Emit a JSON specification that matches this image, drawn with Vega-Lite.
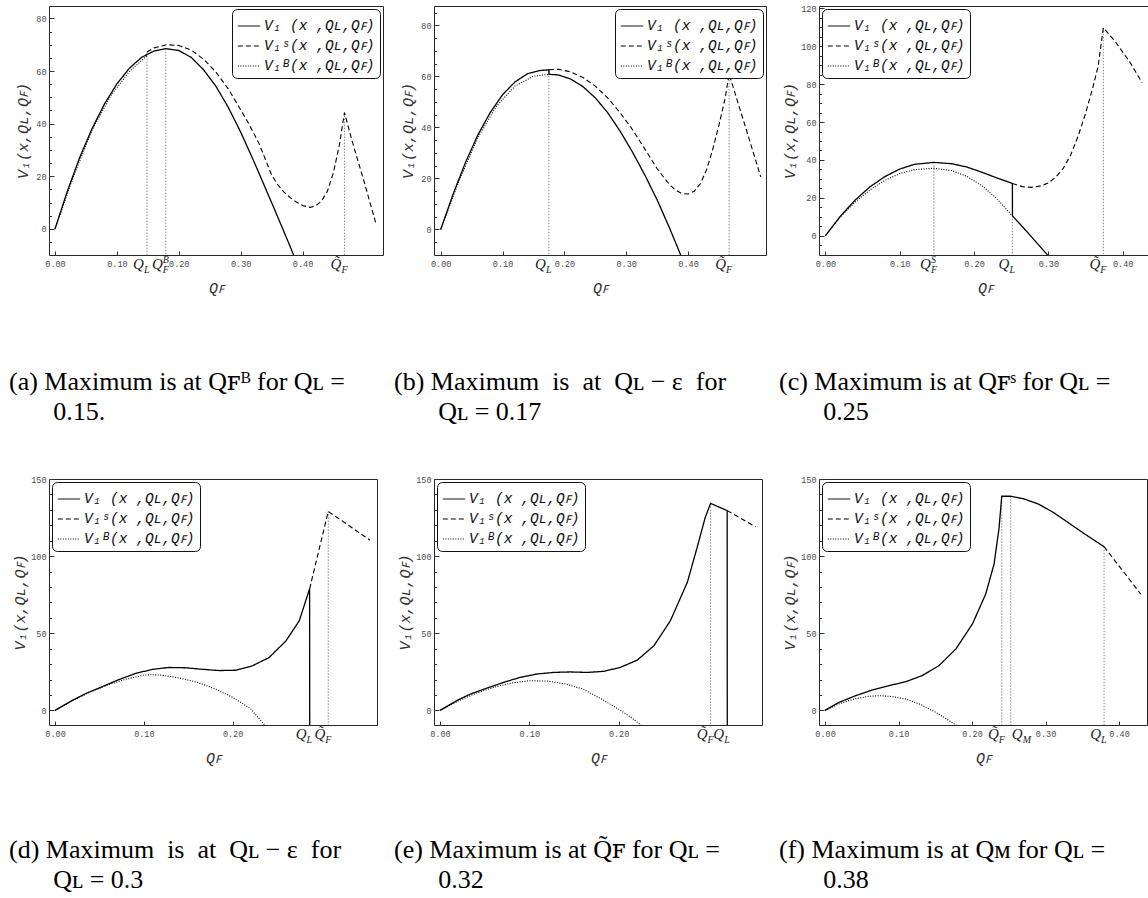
{
"$schema": "https://vega.github.io/schema/vega-lite/v6.json",
"background": "white",
"padding": {"left": 8, "top": 3, "right": 0, "bottom": 0},
"config": {
 "view": {"stroke": "#262626", "strokeWidth": 1},
 "axis": {"grid": false, "domain": false, "tickColor": "#333333", "tickWidth": 1, "labelFont": "Liberation Mono", "labelFontSize": 8.5, "labelColor": "#4d4d4d", "titleFont": "Liberation Mono", "titleFontStyle": "italic", "titleFontWeight": "normal", "titleFontSize": 15, "titleColor": "#333333", "labelOverlap": false, "labelFlush": false},
 "legend": {"fillColor": "white", "strokeColor": "#111111", "cornerRadius": 5, "padding": 5, "offset": 3, "symbolType": "stroke", "symbolStrokeColor": "black", "symbolStrokeWidth": 1, "symbolSize": 500, "labelFont": "Liberation Mono", "labelFontStyle": "italic", "labelFontSize": 14.5, "labelColor": "#111111", "rowPadding": 1, "labelOffset": 3, "labelLimit": 400},
 "title": {"font": "Liberation Serif, DejaVu Serif, serif", "fontSize": 26, "fontWeight": "normal", "color": "black", "orient": "bottom", "anchor": "start", "frame": "group", "dx": -40, "offset": 74, "lineHeight": 30}
},
"datasets": {
 "curves": [
  {"p":"a","s":"B","x":0,"y":0},{"p":"a","s":"B","x":0.03,"y":20.0},{"p":"a","s":"B","x":0.06,"y":37.6},{"p":"a","s":"B","x":0.09,"y":50.6},{"p":"a","s":"B","x":0.12,"y":59.8},{"p":"a","s":"B","x":0.1486,"y":65.8},
  {"p":"a","s":"S","x":0.1486,"y":67.2},{"p":"a","s":"S","x":0.16,"y":68.8},{"p":"a","s":"S","x":0.18,"y":70.0},{"p":"a","s":"S","x":0.2,"y":69.7},{"p":"a","s":"S","x":0.22,"y":68.0},{"p":"a","s":"S","x":0.24,"y":64.5},{"p":"a","s":"S","x":0.26,"y":59.6},{"p":"a","s":"S","x":0.28,"y":53.2},{"p":"a","s":"S","x":0.3,"y":45.3},{"p":"a","s":"S","x":0.313,"y":40.0},{"p":"a","s":"S","x":0.33,"y":32.3},{"p":"a","s":"S","x":0.35,"y":20.5},{"p":"a","s":"S","x":0.36,"y":16.8},{"p":"a","s":"S","x":0.37,"y":14.0},{"p":"a","s":"S","x":0.38,"y":11.9},{"p":"a","s":"S","x":0.39,"y":10.2},{"p":"a","s":"S","x":0.4,"y":8.9},{"p":"a","s":"S","x":0.412,"y":8.2},{"p":"a","s":"S","x":0.42,"y":8.6},{"p":"a","s":"S","x":0.43,"y":10.4},{"p":"a","s":"S","x":0.44,"y":14.2},{"p":"a","s":"S","x":0.45,"y":21.5},{"p":"a","s":"S","x":0.46,"y":32.5},{"p":"a","s":"S","x":0.4677,"y":44.2},{"p":"a","s":"S","x":0.48,"y":33.5},{"p":"a","s":"S","x":0.5,"y":17.5},{"p":"a","s":"S","x":0.518,"y":2.5},
  {"p":"a","s":"V1","x":0,"y":0},{"p":"a","s":"V1","x":0.02,"y":14.4},{"p":"a","s":"V1","x":0.04,"y":27.2},{"p":"a","s":"V1","x":0.06,"y":38.2},{"p":"a","s":"V1","x":0.08,"y":47.5},{"p":"a","s":"V1","x":0.1,"y":55.1},{"p":"a","s":"V1","x":0.12,"y":61.0},{"p":"a","s":"V1","x":0.14,"y":65.2},{"p":"a","s":"V1","x":0.16,"y":67.6},{"p":"a","s":"V1","x":0.179,"y":68.5},{"p":"a","s":"V1","x":0.2,"y":67.8},{"p":"a","s":"V1","x":0.22,"y":65.2},{"p":"a","s":"V1","x":0.24,"y":60.5},{"p":"a","s":"V1","x":0.26,"y":54.2},{"p":"a","s":"V1","x":0.28,"y":46.2},{"p":"a","s":"V1","x":0.3,"y":36.8},{"p":"a","s":"V1","x":0.32,"y":26.4},{"p":"a","s":"V1","x":0.34,"y":15.5},{"p":"a","s":"V1","x":0.36,"y":4.5},{"p":"a","s":"V1","x":0.38,"y":-6.7},{"p":"a","s":"V1","x":0.39,"y":-12.5},

  {"p":"b","s":"B","x":0,"y":0},{"p":"b","s":"B","x":0.03,"y":19.2},{"p":"b","s":"B","x":0.06,"y":36.0},{"p":"b","s":"B","x":0.09,"y":48.3},{"p":"b","s":"B","x":0.12,"y":56.2},{"p":"b","s":"B","x":0.15,"y":60.1},{"p":"b","s":"B","x":0.175,"y":60.8},
  {"p":"b","s":"S","x":0.175,"y":62.6},{"p":"b","s":"S","x":0.19,"y":62.8},{"p":"b","s":"S","x":0.21,"y":61.8},{"p":"b","s":"S","x":0.23,"y":59.6},{"p":"b","s":"S","x":0.25,"y":56.2},{"p":"b","s":"S","x":0.27,"y":51.6},{"p":"b","s":"S","x":0.29,"y":45.8},{"p":"b","s":"S","x":0.31,"y":39.2},{"p":"b","s":"S","x":0.33,"y":31.6},{"p":"b","s":"S","x":0.35,"y":23.8},{"p":"b","s":"S","x":0.37,"y":17.6},{"p":"b","s":"S","x":0.38,"y":15.4},{"p":"b","s":"S","x":0.39,"y":14.1},{"p":"b","s":"S","x":0.4,"y":13.9},{"p":"b","s":"S","x":0.41,"y":15.0},{"p":"b","s":"S","x":0.42,"y":18.0},{"p":"b","s":"S","x":0.43,"y":23.5},{"p":"b","s":"S","x":0.44,"y":31.5},{"p":"b","s":"S","x":0.45,"y":41.0},{"p":"b","s":"S","x":0.46,"y":51.5},{"p":"b","s":"S","x":0.4663,"y":61.0},{"p":"b","s":"S","x":0.48,"y":50.2},{"p":"b","s":"S","x":0.5,"y":34.5},{"p":"b","s":"S","x":0.5175,"y":20.6},
  {"p":"b","s":"V1","x":0,"y":0},{"p":"b","s":"V1","x":0.02,"y":13.8},{"p":"b","s":"V1","x":0.04,"y":26.2},{"p":"b","s":"V1","x":0.06,"y":37.0},{"p":"b","s":"V1","x":0.08,"y":45.8},{"p":"b","s":"V1","x":0.1,"y":52.8},{"p":"b","s":"V1","x":0.12,"y":57.8},{"p":"b","s":"V1","x":0.14,"y":61.0},{"p":"b","s":"V1","x":0.16,"y":62.3},{"p":"b","s":"V1","x":0.175,"y":62.6},{"p":"b","s":"V1","x":0.1751,"y":60.8},{"p":"b","s":"V1","x":0.19,"y":60.6},{"p":"b","s":"V1","x":0.21,"y":59.0},{"p":"b","s":"V1","x":0.23,"y":56.0},{"p":"b","s":"V1","x":0.25,"y":51.6},{"p":"b","s":"V1","x":0.27,"y":45.8},{"p":"b","s":"V1","x":0.29,"y":38.6},{"p":"b","s":"V1","x":0.31,"y":30.4},{"p":"b","s":"V1","x":0.33,"y":21.4},{"p":"b","s":"V1","x":0.35,"y":11.6},{"p":"b","s":"V1","x":0.37,"y":0.6},{"p":"b","s":"V1","x":0.385,"y":-8.2},{"p":"b","s":"V1","x":0.39,"y":-11.2},

  {"p":"c","s":"B","x":0,"y":0},{"p":"c","s":"B","x":0.02,"y":9.8},{"p":"c","s":"B","x":0.04,"y":17.8},{"p":"c","s":"B","x":0.06,"y":24.2},{"p":"c","s":"B","x":0.08,"y":29.2},{"p":"c","s":"B","x":0.1,"y":32.8},{"p":"c","s":"B","x":0.12,"y":34.9},{"p":"c","s":"B","x":0.146,"y":35.6},{"p":"c","s":"B","x":0.17,"y":34.4},{"p":"c","s":"B","x":0.19,"y":31.4},{"p":"c","s":"B","x":0.21,"y":26.6},{"p":"c","s":"B","x":0.23,"y":19.8},{"p":"c","s":"B","x":0.2516,"y":10.5},
  {"p":"c","s":"S","x":0.2516,"y":27.6},{"p":"c","s":"S","x":0.265,"y":25.9},{"p":"c","s":"S","x":0.277,"y":25.5},{"p":"c","s":"S","x":0.29,"y":26.3},{"p":"c","s":"S","x":0.3,"y":27.8},{"p":"c","s":"S","x":0.31,"y":31.0},{"p":"c","s":"S","x":0.32,"y":35.5},{"p":"c","s":"S","x":0.33,"y":42.6},{"p":"c","s":"S","x":0.34,"y":52.5},{"p":"c","s":"S","x":0.35,"y":64.5},{"p":"c","s":"S","x":0.36,"y":78.5},{"p":"c","s":"S","x":0.367,"y":89.5},{"p":"c","s":"S","x":0.374,"y":109.8},{"p":"c","s":"S","x":0.39,"y":102.5},{"p":"c","s":"S","x":0.41,"y":91.5},{"p":"c","s":"S","x":0.426,"y":80.8},
  {"p":"c","s":"V1","x":0,"y":0},{"p":"c","s":"V1","x":0.02,"y":10.2},{"p":"c","s":"V1","x":0.04,"y":18.8},{"p":"c","s":"V1","x":0.06,"y":25.8},{"p":"c","s":"V1","x":0.08,"y":31.2},{"p":"c","s":"V1","x":0.1,"y":35.2},{"p":"c","s":"V1","x":0.12,"y":37.7},{"p":"c","s":"V1","x":0.146,"y":38.7},{"p":"c","s":"V1","x":0.17,"y":38.0},{"p":"c","s":"V1","x":0.19,"y":36.3},{"p":"c","s":"V1","x":0.21,"y":33.6},{"p":"c","s":"V1","x":0.23,"y":30.6},{"p":"c","s":"V1","x":0.2516,"y":27.6},{"p":"c","s":"V1","x":0.2517,"y":10.5},{"p":"c","s":"V1","x":0.27,"y":2.6},{"p":"c","s":"V1","x":0.29,"y":-6.3},{"p":"c","s":"V1","x":0.3,"y":-10.7},

  {"p":"d","s":"B","x":0,"y":0},{"p":"d","s":"B","x":0.02,"y":6.4},{"p":"d","s":"B","x":0.04,"y":12.0},{"p":"d","s":"B","x":0.06,"y":16.6},{"p":"d","s":"B","x":0.08,"y":20.2},{"p":"d","s":"B","x":0.1,"y":22.9},{"p":"d","s":"B","x":0.11,"y":23.1},{"p":"d","s":"B","x":0.12,"y":22.8},{"p":"d","s":"B","x":0.14,"y":21.0},{"p":"d","s":"B","x":0.16,"y":18.2},{"p":"d","s":"B","x":0.18,"y":14.0},{"p":"d","s":"B","x":0.2,"y":8.4},{"p":"d","s":"B","x":0.22,"y":1.2},{"p":"d","s":"B","x":0.236,"y":-9.5},{"p":"d","s":"B","x":0.24,"y":-12},
  {"p":"d","s":"S","x":0.2867,"y":78.8},{"p":"d","s":"S","x":0.3077,"y":129},{"p":"d","s":"S","x":0.3546,"y":110.4},
  {"p":"d","s":"V1","x":0,"y":0},{"p":"d","s":"V1","x":0.02,"y":6.6},{"p":"d","s":"V1","x":0.035,"y":11.0},{"p":"d","s":"V1","x":0.053,"y":15.3},{"p":"d","s":"V1","x":0.07,"y":19.5},{"p":"d","s":"V1","x":0.091,"y":24.0},{"p":"d","s":"V1","x":0.11,"y":26.6},{"p":"d","s":"V1","x":0.128,"y":27.8},{"p":"d","s":"V1","x":0.147,"y":27.6},{"p":"d","s":"V1","x":0.166,"y":26.6},{"p":"d","s":"V1","x":0.185,"y":25.8},{"p":"d","s":"V1","x":0.203,"y":26.0},{"p":"d","s":"V1","x":0.222,"y":28.8},{"p":"d","s":"V1","x":0.241,"y":34.2},{"p":"d","s":"V1","x":0.26,"y":45.0},{"p":"d","s":"V1","x":0.275,"y":58.0},{"p":"d","s":"V1","x":0.2867,"y":78.8},{"p":"d","s":"V1","x":0.2868,"y":-11},

  {"p":"e","s":"B","x":0,"y":0},{"p":"e","s":"B","x":0.02,"y":6.0},{"p":"e","s":"B","x":0.04,"y":11.0},{"p":"e","s":"B","x":0.06,"y":14.9},{"p":"e","s":"B","x":0.08,"y":17.7},{"p":"e","s":"B","x":0.1,"y":19.2},{"p":"e","s":"B","x":0.12,"y":19.0},{"p":"e","s":"B","x":0.14,"y":17.2},{"p":"e","s":"B","x":0.16,"y":13.8},{"p":"e","s":"B","x":0.18,"y":7.6},{"p":"e","s":"B","x":0.2,"y":0.8},{"p":"e","s":"B","x":0.215,"y":-5.0},{"p":"e","s":"B","x":0.226,"y":-10.0},{"p":"e","s":"B","x":0.23,"y":-12},
  {"p":"e","s":"S","x":0.3216,"y":129.5},{"p":"e","s":"S","x":0.3534,"y":119},
  {"p":"e","s":"V1","x":0,"y":0},{"p":"e","s":"V1","x":0.02,"y":6.7},{"p":"e","s":"V1","x":0.0343,"y":10.6},{"p":"e","s":"V1","x":0.053,"y":14.5},{"p":"e","s":"V1","x":0.0716,"y":18.2},{"p":"e","s":"V1","x":0.09,"y":21.4},{"p":"e","s":"V1","x":0.109,"y":23.6},{"p":"e","s":"V1","x":0.1276,"y":24.6},{"p":"e","s":"V1","x":0.146,"y":24.9},{"p":"e","s":"V1","x":0.165,"y":24.6},{"p":"e","s":"V1","x":0.1836,"y":25.3},{"p":"e","s":"V1","x":0.202,"y":27.9},{"p":"e","s":"V1","x":0.221,"y":32.6},{"p":"e","s":"V1","x":0.2396,"y":41.9},{"p":"e","s":"V1","x":0.258,"y":58.1},{"p":"e","s":"V1","x":0.277,"y":83.0},{"p":"e","s":"V1","x":0.288,"y":105.7},{"p":"e","s":"V1","x":0.297,"y":125.0},{"p":"e","s":"V1","x":0.303,"y":134.2},{"p":"e","s":"V1","x":0.3216,"y":129.5},{"p":"e","s":"V1","x":0.3217,"y":-11},

  {"p":"f","s":"B","x":0,"y":0},{"p":"f","s":"B","x":0.02,"y":4.4},{"p":"f","s":"B","x":0.04,"y":7.4},{"p":"f","s":"B","x":0.06,"y":9.1},{"p":"f","s":"B","x":0.0735,"y":9.5},{"p":"f","s":"B","x":0.09,"y":9.0},{"p":"f","s":"B","x":0.11,"y":7.3},{"p":"f","s":"B","x":0.13,"y":3.8},{"p":"f","s":"B","x":0.155,"y":-2.4},{"p":"f","s":"B","x":0.178,"y":-9.5},{"p":"f","s":"B","x":0.182,"y":-11},
  {"p":"f","s":"S","x":0.3796,"y":106.1},{"p":"f","s":"S","x":0.4295,"y":75.4},
  {"p":"f","s":"V1","x":0,"y":0},{"p":"f","s":"V1","x":0.019,"y":5.2},{"p":"f","s":"V1","x":0.0417,"y":9.5},{"p":"f","s":"V1","x":0.0644,"y":13.2},{"p":"f","s":"V1","x":0.087,"y":16.0},{"p":"f","s":"V1","x":0.11,"y":18.6},{"p":"f","s":"V1","x":0.132,"y":22.5},{"p":"f","s":"V1","x":0.155,"y":29.0},{"p":"f","s":"V1","x":0.178,"y":39.8},{"p":"f","s":"V1","x":0.2005,"y":56.0},{"p":"f","s":"V1","x":0.2186,"y":75.4},{"p":"f","s":"V1","x":0.23,"y":95.0},{"p":"f","s":"V1","x":0.2367,"y":118.0},{"p":"f","s":"V1","x":0.2404,"y":138.8},{"p":"f","s":"V1","x":0.2526,"y":138.8},{"p":"f","s":"V1","x":0.27,"y":137.2},{"p":"f","s":"V1","x":0.29,"y":133.8},{"p":"f","s":"V1","x":0.31,"y":128.5},{"p":"f","s":"V1","x":0.33,"y":122.0},{"p":"f","s":"V1","x":0.35,"y":115.4},{"p":"f","s":"V1","x":0.3796,"y":106.1}
 ],
 "guides": [
  {"p":"a","x":0.1486,"y":67.0},{"p":"a","x":0.179,"y":68.5},{"p":"a","x":0.4677,"y":44.2},
  {"p":"b","x":0.175,"y":62.6},{"p":"b","x":0.4663,"y":61.0},
  {"p":"c","x":0.146,"y":38.7},{"p":"c","x":0.2516,"y":10.5},{"p":"c","x":0.374,"y":109.8},
  {"p":"d","x":0.3077,"y":129},
  {"p":"e","x":0.303,"y":134.2},
  {"p":"f","x":0.2404,"y":138.8},{"p":"f","x":0.2526,"y":138.8},{"p":"f","x":0.3796,"y":106.1}
 ],
 "marks": [
  {"p":"a","x":0.1486,"main":"Q","sub":"L","sup":""},{"p":"a","x":0.179,"main":"Q","sub":"F","sup":"B"},{"p":"a","x":0.4677,"main":"Q̃","sub":"F","sup":""},
  {"p":"b","x":0.175,"main":"Q","sub":"L","sup":""},{"p":"b","x":0.4663,"main":"Q̃","sub":"F","sup":""},
  {"p":"c","x":0.146,"main":"Q","sub":"F","sup":"S"},{"p":"c","x":0.2516,"main":"Q","sub":"L","sup":""},{"p":"c","x":0.374,"main":"Q̃","sub":"F","sup":""},
  {"p":"d","x":0.2867,"main":"Q","sub":"L","sup":""},{"p":"d","x":0.3077,"main":"Q̃","sub":"F","sup":""},
  {"p":"e","x":0.303,"main":"Q̃","sub":"F","sup":""},{"p":"e","x":0.3216,"main":"Q","sub":"L","sup":""},
  {"p":"f","x":0.2404,"main":"Q̃","sub":"F","sup":""},{"p":"f","x":0.2526,"main":"Q","sub":"M","sup":""},{"p":"f","x":0.3796,"main":"Q","sub":"L","sup":""}
 ]
},
"columns": 3,
"spacing": {"row": 224, "column": 51},
"bounds": "flush",
"align": "all",
"resolve": {"scale": {"x": "independent", "y": "independent", "strokeDash": "independent"}, "legend": {"strokeDash": "independent"}},
"concat": [
 {
  "width": 334, "height": 249,
  "title": {"text": ["(a) Maximum is at Qꜰᴮ for Qʟ =", "\u200B\u2003\u2002\u20090.15."]},
  "resolve": {"axis": {"y": "independent"}},
  "layer": [
   {"data": {"name": "guides"}, "transform": [{"filter": "datum.p == 'a'"}], "mark": {"type": "rule", "color": "#8a8a8a", "strokeDash": [1.5, 1.5], "strokeWidth": 1},
    "encoding": {
     "x": {"field": "x", "type": "quantitative", "scale": {"domain": [-0.0097, 0.53], "nice": false, "zero": false}, "axis": {"values": [0, 0.1, 0.2, 0.3, 0.4], "format": ".2f", "title": "Qꜰ", "tickSize": -4, "labelPadding": 8, "minExtent": 14, "maxExtent": 14, "titlePadding": 11}},
     "y": {"field": "y", "type": "quantitative", "scale": {"domain": [-9.9, 84.7], "nice": false, "zero": false}, "axis": {"orient": "left", "values": [0, 20, 40, 60, 80], "tickSize": -5, "labelPadding": 8, "title": "V₁(x,Qʟ,Qꜰ)", "minExtent": 14, "maxExtent": 14, "titlePadding": 5}},
     "y2": {"datum": -9.9}}},
   {"data": {"name": "curves"}, "transform": [{"filter": "datum.p == 'a' && datum.s == 'B'"}], "mark": {"type": "line", "color": "black", "strokeWidth": 1.1, "clip": true},
    "encoding": {"x": {"field": "x", "type": "quantitative"}, "y": {"field": "y", "type": "quantitative", "axis": {"orient": "left", "values": [-5, 5, 10, 15, 25, 30, 35, 45, 50, 55, 65, 70, 75], "labels": false, "title": null, "tickSize": -2.5, "minExtent": 0, "maxExtent": 0}}, "strokeDash": {"field": "s", "type": "nominal", "scale": {"domain": ["V1", "S", "B"], "range": [[1, 0], [5, 3], [1, 1.5]]}, "legend": {"orient": "top-right", "title": null, "labelExpr": "datum.label == 'V1' ? 'V₁ (x ,Qʟ,Qꜰ)' : datum.label == 'S' ? 'V₁ˢ(x ,Qʟ,Qꜰ)' : 'V₁ᴮ(x ,Qʟ,Qꜰ)'"}}}},
   {"data": {"name": "curves"}, "transform": [{"filter": "datum.p == 'a' && datum.s == 'S'"}], "mark": {"type": "line", "color": "black", "strokeWidth": 1.1, "clip": true},
    "encoding": {"x": {"field": "x", "type": "quantitative"}, "y": {"field": "y", "type": "quantitative", "axis": null}, "strokeDash": {"field": "s", "type": "nominal"}}},
   {"data": {"name": "curves"}, "transform": [{"filter": "datum.p == 'a' && datum.s == 'V1'"}], "mark": {"type": "line", "color": "black", "strokeWidth": 1.3, "clip": true},
    "encoding": {"x": {"field": "x", "type": "quantitative"}, "y": {"field": "y", "type": "quantitative", "axis": null}, "strokeDash": {"field": "s", "type": "nominal"}}},
   {"data": {"name": "marks"}, "transform": [{"filter": "datum.p == 'a'"}], "mark": {"type": "text", "font": "Liberation Serif", "fontStyle": "italic", "fontSize": 15, "align": "right", "baseline": "alphabetic", "dx": -3, "dy": 14, "color": "#222222"},
    "encoding": {"x": {"field": "x", "type": "quantitative"}, "y": {"datum": -9.9, "axis": null}, "text": {"field": "main"}}},
   {"data": {"name": "marks"}, "transform": [{"filter": "datum.p == 'a'"}], "mark": {"type": "text", "font": "Liberation Serif", "fontStyle": "italic", "fontSize": 10, "align": "left", "baseline": "alphabetic", "dx": -3, "dy": 18, "color": "#222222"},
    "encoding": {"x": {"field": "x", "type": "quantitative"}, "y": {"datum": -9.9, "axis": null}, "text": {"field": "sub"}}},
   {"data": {"name": "marks"}, "transform": [{"filter": "datum.p == 'a'"}], "mark": {"type": "text", "font": "Liberation Serif", "fontStyle": "italic", "fontSize": 10, "align": "left", "baseline": "alphabetic", "dx": -3, "dy": 8, "color": "#222222"},
    "encoding": {"x": {"field": "x", "type": "quantitative"}, "y": {"datum": -9.9, "axis": null}, "text": {"field": "sup"}}}
  ]
 },
 {
  "width": 332, "height": 249,
  "title": {"text": ["(b) Maximum\u2002is\u2002at\u2002Qʟ − ε\u2002for", "\u200B\u2003\u2002\u2009Qʟ = 0.17"]},
  "resolve": {"axis": {"y": "independent"}},
  "layer": [
   {"data": {"name": "guides"}, "transform": [{"filter": "datum.p == 'b'"}], "mark": {"type": "rule", "color": "#8a8a8a", "strokeDash": [1.5, 1.5], "strokeWidth": 1},
    "encoding": {
     "x": {"field": "x", "type": "quantitative", "scale": {"domain": [-0.0108, 0.526], "nice": false, "zero": false}, "axis": {"values": [0, 0.1, 0.2, 0.3, 0.4], "format": ".2f", "title": "Qꜰ", "tickSize": -4, "labelPadding": 8, "minExtent": 14, "maxExtent": 14, "titlePadding": 11}},
     "y": {"field": "y", "type": "quantitative", "scale": {"domain": [-10, 87.6], "nice": false, "zero": false}, "axis": {"orient": "left", "values": [0, 20, 40, 60, 80], "tickSize": -5, "labelPadding": 8, "title": "V₁(x,Qʟ,Qꜰ)", "minExtent": 14, "maxExtent": 14, "titlePadding": 5}},
     "y2": {"datum": -10}}},
   {"data": {"name": "curves"}, "transform": [{"filter": "datum.p == 'b' && datum.s == 'B'"}], "mark": {"type": "line", "color": "black", "strokeWidth": 1.1, "clip": true},
    "encoding": {"x": {"field": "x", "type": "quantitative"}, "y": {"field": "y", "type": "quantitative", "axis": {"orient": "left", "values": [-5, 5, 10, 15, 25, 30, 35, 45, 50, 55, 65, 70, 75, 85], "labels": false, "title": null, "tickSize": -2.5, "minExtent": 0, "maxExtent": 0}}, "strokeDash": {"field": "s", "type": "nominal", "scale": {"domain": ["V1", "S", "B"], "range": [[1, 0], [5, 3], [1, 1.5]]}, "legend": {"orient": "top-right", "title": null, "labelExpr": "datum.label == 'V1' ? 'V₁ (x ,Qʟ,Qꜰ)' : datum.label == 'S' ? 'V₁ˢ(x ,Qʟ,Qꜰ)' : 'V₁ᴮ(x ,Qʟ,Qꜰ)'"}}}},
   {"data": {"name": "curves"}, "transform": [{"filter": "datum.p == 'b' && datum.s == 'S'"}], "mark": {"type": "line", "color": "black", "strokeWidth": 1.1, "clip": true},
    "encoding": {"x": {"field": "x", "type": "quantitative"}, "y": {"field": "y", "type": "quantitative", "axis": null}, "strokeDash": {"field": "s", "type": "nominal"}}},
   {"data": {"name": "curves"}, "transform": [{"filter": "datum.p == 'b' && datum.s == 'V1'"}], "mark": {"type": "line", "color": "black", "strokeWidth": 1.3, "clip": true},
    "encoding": {"x": {"field": "x", "type": "quantitative"}, "y": {"field": "y", "type": "quantitative", "axis": null}, "strokeDash": {"field": "s", "type": "nominal"}}},
   {"data": {"name": "marks"}, "transform": [{"filter": "datum.p == 'b'"}], "mark": {"type": "text", "font": "Liberation Serif", "fontStyle": "italic", "fontSize": 15, "align": "right", "baseline": "alphabetic", "dx": -3, "dy": 14, "color": "#222222"},
    "encoding": {"x": {"field": "x", "type": "quantitative"}, "y": {"datum": -10, "axis": null}, "text": {"field": "main"}}},
   {"data": {"name": "marks"}, "transform": [{"filter": "datum.p == 'b'"}], "mark": {"type": "text", "font": "Liberation Serif", "fontStyle": "italic", "fontSize": 10, "align": "left", "baseline": "alphabetic", "dx": -3, "dy": 18, "color": "#222222"},
    "encoding": {"x": {"field": "x", "type": "quantitative"}, "y": {"datum": -10, "axis": null}, "text": {"field": "sub"}}}
  ]
 },
 {
  "width": 332, "height": 249,
  "title": {"text": ["(c) Maximum is at Qꜰˢ for Qʟ =", "\u200B\u2003\u2002\u20090.25"]},
  "resolve": {"axis": {"y": "independent"}},
  "layer": [
   {"data": {"name": "guides"}, "transform": [{"filter": "datum.p == 'c'"}], "mark": {"type": "rule", "color": "#8a8a8a", "strokeDash": [1.5, 1.5], "strokeWidth": 1},
    "encoding": {
     "x": {"field": "x", "type": "quantitative", "scale": {"domain": [-0.0086, 0.4381], "nice": false, "zero": false}, "axis": {"values": [0, 0.1, 0.2, 0.3, 0.4], "format": ".2f", "title": "Qꜰ", "tickSize": -4, "labelPadding": 8, "minExtent": 14, "maxExtent": 14, "titlePadding": 11}},
     "y": {"field": "y", "type": "quantitative", "scale": {"domain": [-10.2, 121.3], "nice": false, "zero": false}, "axis": {"orient": "left", "values": [0, 20, 40, 60, 80, 100, 120], "tickSize": -5, "labelPadding": 8, "title": "V₁(x,Qʟ,Qꜰ)", "minExtent": 17, "maxExtent": 17, "titlePadding": 5}},
     "y2": {"datum": -10.2}}},
   {"data": {"name": "curves"}, "transform": [{"filter": "datum.p == 'c' && datum.s == 'B'"}], "mark": {"type": "line", "color": "black", "strokeWidth": 1.1, "clip": true},
    "encoding": {"x": {"field": "x", "type": "quantitative"}, "y": {"field": "y", "type": "quantitative", "axis": {"orient": "left", "values": [-5, 5, 10, 15, 25, 30, 35, 45, 50, 55, 65, 70, 75, 85, 90, 95, 105, 110, 115], "labels": false, "title": null, "tickSize": -2.5, "minExtent": 0, "maxExtent": 0}}, "strokeDash": {"field": "s", "type": "nominal", "scale": {"domain": ["V1", "S", "B"], "range": [[1, 0], [5, 3], [1, 1.5]]}, "legend": {"orient": "top-left", "title": null, "labelExpr": "datum.label == 'V1' ? 'V₁ (x ,Qʟ,Qꜰ)' : datum.label == 'S' ? 'V₁ˢ(x ,Qʟ,Qꜰ)' : 'V₁ᴮ(x ,Qʟ,Qꜰ)'"}}}},
   {"data": {"name": "curves"}, "transform": [{"filter": "datum.p == 'c' && datum.s == 'S'"}], "mark": {"type": "line", "color": "black", "strokeWidth": 1.1, "clip": true},
    "encoding": {"x": {"field": "x", "type": "quantitative"}, "y": {"field": "y", "type": "quantitative", "axis": null}, "strokeDash": {"field": "s", "type": "nominal"}}},
   {"data": {"name": "curves"}, "transform": [{"filter": "datum.p == 'c' && datum.s == 'V1'"}], "mark": {"type": "line", "color": "black", "strokeWidth": 1.3, "clip": true},
    "encoding": {"x": {"field": "x", "type": "quantitative"}, "y": {"field": "y", "type": "quantitative", "axis": null}, "strokeDash": {"field": "s", "type": "nominal"}}},
   {"data": {"name": "marks"}, "transform": [{"filter": "datum.p == 'c'"}], "mark": {"type": "text", "font": "Liberation Serif", "fontStyle": "italic", "fontSize": 15, "align": "right", "baseline": "alphabetic", "dx": -3, "dy": 14, "color": "#222222"},
    "encoding": {"x": {"field": "x", "type": "quantitative"}, "y": {"datum": -10.2, "axis": null}, "text": {"field": "main"}}},
   {"data": {"name": "marks"}, "transform": [{"filter": "datum.p == 'c'"}], "mark": {"type": "text", "font": "Liberation Serif", "fontStyle": "italic", "fontSize": 10, "align": "left", "baseline": "alphabetic", "dx": -3, "dy": 18, "color": "#222222"},
    "encoding": {"x": {"field": "x", "type": "quantitative"}, "y": {"datum": -10.2, "axis": null}, "text": {"field": "sub"}}},
   {"data": {"name": "marks"}, "transform": [{"filter": "datum.p == 'c'"}], "mark": {"type": "text", "font": "Liberation Serif", "fontStyle": "italic", "fontSize": 10, "align": "left", "baseline": "alphabetic", "dx": -3, "dy": 8, "color": "#222222"},
    "encoding": {"x": {"field": "x", "type": "quantitative"}, "y": {"datum": -10.2, "axis": null}, "text": {"field": "sup"}}}
  ]
 },
 {
  "width": 328, "height": 246,
  "title": {"text": ["(d) Maximum\u2002is\u2002at\u2002Qʟ − ε\u2002for", "\u200B\u2003\u2002\u2009Qʟ = 0.3"], "offset": 72},
  "resolve": {"axis": {"y": "independent"}},
  "layer": [
   {"data": {"name": "guides"}, "transform": [{"filter": "datum.p == 'd'"}], "mark": {"type": "rule", "color": "#8a8a8a", "strokeDash": [1.5, 1.5], "strokeWidth": 1},
    "encoding": {
     "x": {"field": "x", "type": "quantitative", "scale": {"domain": [-0.0068, 0.3626], "nice": false, "zero": false}, "axis": {"values": [0, 0.1, 0.2], "format": ".2f", "title": "Qꜰ", "tickSize": -4, "labelPadding": 8, "minExtent": 14, "maxExtent": 14, "titlePadding": 11}},
     "y": {"field": "y", "type": "quantitative", "scale": {"domain": [-9.5, 150], "nice": false, "zero": false}, "axis": {"orient": "left", "values": [0, 50, 100, 150], "tickSize": -5, "labelPadding": 8, "title": "V₁(x,Qʟ,Qꜰ)", "minExtent": 17, "maxExtent": 17, "titlePadding": 5}},
     "y2": {"datum": -9.5}}},
   {"data": {"name": "curves"}, "transform": [{"filter": "datum.p == 'd' && datum.s == 'B'"}], "mark": {"type": "line", "color": "black", "strokeWidth": 1.1, "clip": true},
    "encoding": {"x": {"field": "x", "type": "quantitative"}, "y": {"field": "y", "type": "quantitative", "axis": {"orient": "left", "values": [10, 20, 30, 40, 60, 70, 80, 90, 110, 120, 130, 140], "labels": false, "title": null, "tickSize": -2.5, "minExtent": 0, "maxExtent": 0}}, "strokeDash": {"field": "s", "type": "nominal", "scale": {"domain": ["V1", "S", "B"], "range": [[1, 0], [5, 3], [1, 1.5]]}, "legend": {"orient": "top-left", "title": null, "labelExpr": "datum.label == 'V1' ? 'V₁ (x ,Qʟ,Qꜰ)' : datum.label == 'S' ? 'V₁ˢ(x ,Qʟ,Qꜰ)' : 'V₁ᴮ(x ,Qʟ,Qꜰ)'"}}}},
   {"data": {"name": "curves"}, "transform": [{"filter": "datum.p == 'd' && datum.s == 'S'"}], "mark": {"type": "line", "color": "black", "strokeWidth": 1.1, "clip": true},
    "encoding": {"x": {"field": "x", "type": "quantitative"}, "y": {"field": "y", "type": "quantitative", "axis": null}, "strokeDash": {"field": "s", "type": "nominal"}}},
   {"data": {"name": "curves"}, "transform": [{"filter": "datum.p == 'd' && datum.s == 'V1'"}], "mark": {"type": "line", "color": "black", "strokeWidth": 1.3, "clip": true},
    "encoding": {"x": {"field": "x", "type": "quantitative"}, "y": {"field": "y", "type": "quantitative", "axis": null}, "strokeDash": {"field": "s", "type": "nominal"}}},
   {"data": {"name": "marks"}, "transform": [{"filter": "datum.p == 'd'"}], "mark": {"type": "text", "font": "Liberation Serif", "fontStyle": "italic", "fontSize": 15, "align": "right", "baseline": "alphabetic", "dx": -3, "dy": 14, "color": "#222222"},
    "encoding": {"x": {"field": "x", "type": "quantitative"}, "y": {"datum": -9.5, "axis": null}, "text": {"field": "main"}}},
   {"data": {"name": "marks"}, "transform": [{"filter": "datum.p == 'd'"}], "mark": {"type": "text", "font": "Liberation Serif", "fontStyle": "italic", "fontSize": 10, "align": "left", "baseline": "alphabetic", "dx": -3, "dy": 18, "color": "#222222"},
    "encoding": {"x": {"field": "x", "type": "quantitative"}, "y": {"datum": -9.5, "axis": null}, "text": {"field": "sub"}}}
  ]
 },
 {
  "width": 328, "height": 246,
  "title": {"text": ["(e) Maximum is at Q̃ꜰ for Qʟ =", "\u200B\u2003\u2002\u20090.32"], "offset": 72},
  "resolve": {"axis": {"y": "independent"}},
  "layer": [
   {"data": {"name": "guides"}, "transform": [{"filter": "datum.p == 'e'"}], "mark": {"type": "rule", "color": "#8a8a8a", "strokeDash": [1.5, 1.5], "strokeWidth": 1},
    "encoding": {
     "x": {"field": "x", "type": "quantitative", "scale": {"domain": [-0.0067, 0.3606], "nice": false, "zero": false}, "axis": {"values": [0, 0.1, 0.2], "format": ".2f", "title": "Qꜰ", "tickSize": -4, "labelPadding": 8, "minExtent": 14, "maxExtent": 14, "titlePadding": 11}},
     "y": {"field": "y", "type": "quantitative", "scale": {"domain": [-9.5, 150], "nice": false, "zero": false}, "axis": {"orient": "left", "values": [0, 50, 100, 150], "tickSize": -5, "labelPadding": 8, "title": "V₁(x,Qʟ,Qꜰ)", "minExtent": 17, "maxExtent": 17, "titlePadding": 5}},
     "y2": {"datum": -9.5}}},
   {"data": {"name": "curves"}, "transform": [{"filter": "datum.p == 'e' && datum.s == 'B'"}], "mark": {"type": "line", "color": "black", "strokeWidth": 1.1, "clip": true},
    "encoding": {"x": {"field": "x", "type": "quantitative"}, "y": {"field": "y", "type": "quantitative", "axis": {"orient": "left", "values": [10, 20, 30, 40, 60, 70, 80, 90, 110, 120, 130, 140], "labels": false, "title": null, "tickSize": -2.5, "minExtent": 0, "maxExtent": 0}}, "strokeDash": {"field": "s", "type": "nominal", "scale": {"domain": ["V1", "S", "B"], "range": [[1, 0], [5, 3], [1, 1.5]]}, "legend": {"orient": "top-left", "title": null, "labelExpr": "datum.label == 'V1' ? 'V₁ (x ,Qʟ,Qꜰ)' : datum.label == 'S' ? 'V₁ˢ(x ,Qʟ,Qꜰ)' : 'V₁ᴮ(x ,Qʟ,Qꜰ)'"}}}},
   {"data": {"name": "curves"}, "transform": [{"filter": "datum.p == 'e' && datum.s == 'S'"}], "mark": {"type": "line", "color": "black", "strokeWidth": 1.1, "clip": true},
    "encoding": {"x": {"field": "x", "type": "quantitative"}, "y": {"field": "y", "type": "quantitative", "axis": null}, "strokeDash": {"field": "s", "type": "nominal"}}},
   {"data": {"name": "curves"}, "transform": [{"filter": "datum.p == 'e' && datum.s == 'V1'"}], "mark": {"type": "line", "color": "black", "strokeWidth": 1.3, "clip": true},
    "encoding": {"x": {"field": "x", "type": "quantitative"}, "y": {"field": "y", "type": "quantitative", "axis": null}, "strokeDash": {"field": "s", "type": "nominal"}}},
   {"data": {"name": "marks"}, "transform": [{"filter": "datum.p == 'e'"}], "mark": {"type": "text", "font": "Liberation Serif", "fontStyle": "italic", "fontSize": 15, "align": "right", "baseline": "alphabetic", "dx": -3, "dy": 14, "color": "#222222"},
    "encoding": {"x": {"field": "x", "type": "quantitative"}, "y": {"datum": -9.5, "axis": null}, "text": {"field": "main"}}},
   {"data": {"name": "marks"}, "transform": [{"filter": "datum.p == 'e'"}], "mark": {"type": "text", "font": "Liberation Serif", "fontStyle": "italic", "fontSize": 10, "align": "left", "baseline": "alphabetic", "dx": -3, "dy": 18, "color": "#222222"},
    "encoding": {"x": {"field": "x", "type": "quantitative"}, "y": {"datum": -9.5, "axis": null}, "text": {"field": "sub"}}}
  ]
 },
 {
  "width": 328, "height": 246,
  "title": {"text": ["(f) Maximum is at Qᴍ for Qʟ =", "\u200B\u2003\u2002\u20090.38"], "offset": 72},
  "resolve": {"axis": {"y": "independent"}},
  "layer": [
   {"data": {"name": "guides"}, "transform": [{"filter": "datum.p == 'f'"}], "mark": {"type": "rule", "color": "#8a8a8a", "strokeDash": [1.5, 1.5], "strokeWidth": 1},
    "encoding": {
     "x": {"field": "x", "type": "quantitative", "scale": {"domain": [-0.0082, 0.438], "nice": false, "zero": false}, "axis": {"values": [0, 0.1, 0.2, 0.3, 0.4], "format": ".2f", "title": "Qꜰ", "tickSize": -4, "labelPadding": 8, "minExtent": 14, "maxExtent": 14, "titlePadding": 11}},
     "y": {"field": "y", "type": "quantitative", "scale": {"domain": [-9.5, 150], "nice": false, "zero": false}, "axis": {"orient": "left", "values": [0, 50, 100, 150], "tickSize": -5, "labelPadding": 8, "title": "V₁(x,Qʟ,Qꜰ)", "minExtent": 17, "maxExtent": 17, "titlePadding": 5}},
     "y2": {"datum": -9.5}}},
   {"data": {"name": "curves"}, "transform": [{"filter": "datum.p == 'f' && datum.s == 'B'"}], "mark": {"type": "line", "color": "black", "strokeWidth": 1.1, "clip": true},
    "encoding": {"x": {"field": "x", "type": "quantitative"}, "y": {"field": "y", "type": "quantitative", "axis": {"orient": "left", "values": [10, 20, 30, 40, 60, 70, 80, 90, 110, 120, 130, 140], "labels": false, "title": null, "tickSize": -2.5, "minExtent": 0, "maxExtent": 0}}, "strokeDash": {"field": "s", "type": "nominal", "scale": {"domain": ["V1", "S", "B"], "range": [[1, 0], [5, 3], [1, 1.5]]}, "legend": {"orient": "top-left", "title": null, "labelExpr": "datum.label == 'V1' ? 'V₁ (x ,Qʟ,Qꜰ)' : datum.label == 'S' ? 'V₁ˢ(x ,Qʟ,Qꜰ)' : 'V₁ᴮ(x ,Qʟ,Qꜰ)'"}}}},
   {"data": {"name": "curves"}, "transform": [{"filter": "datum.p == 'f' && datum.s == 'S'"}], "mark": {"type": "line", "color": "black", "strokeWidth": 1.1, "clip": true},
    "encoding": {"x": {"field": "x", "type": "quantitative"}, "y": {"field": "y", "type": "quantitative", "axis": null}, "strokeDash": {"field": "s", "type": "nominal"}}},
   {"data": {"name": "curves"}, "transform": [{"filter": "datum.p == 'f' && datum.s == 'V1'"}], "mark": {"type": "line", "color": "black", "strokeWidth": 1.3, "clip": true},
    "encoding": {"x": {"field": "x", "type": "quantitative"}, "y": {"field": "y", "type": "quantitative", "axis": null}, "strokeDash": {"field": "s", "type": "nominal"}}},
   {"data": {"name": "marks"}, "transform": [{"filter": "datum.p == 'f' && datum.sub != 'M'"}], "mark": {"type": "text", "font": "Liberation Serif", "fontStyle": "italic", "fontSize": 15, "align": "right", "baseline": "alphabetic", "dx": -3, "dy": 14, "color": "#222222"},
    "encoding": {"x": {"field": "x", "type": "quantitative"}, "y": {"datum": -9.5, "axis": null}, "text": {"field": "main"}}},
   {"data": {"name": "marks"}, "transform": [{"filter": "datum.p == 'f' && datum.sub != 'M'"}], "mark": {"type": "text", "font": "Liberation Serif", "fontStyle": "italic", "fontSize": 10, "align": "left", "baseline": "alphabetic", "dx": -3, "dy": 18, "color": "#222222"},
    "encoding": {"x": {"field": "x", "type": "quantitative"}, "y": {"datum": -9.5, "axis": null}, "text": {"field": "sub"}}},
   {"data": {"name": "marks"}, "transform": [{"filter": "datum.p == 'f' && datum.sub == 'M'"}], "mark": {"type": "text", "font": "Liberation Serif", "fontStyle": "italic", "fontSize": 15, "align": "left", "baseline": "alphabetic", "dx": 1, "dy": 14, "color": "#222222"},
    "encoding": {"x": {"field": "x", "type": "quantitative"}, "y": {"datum": -9.5, "axis": null}, "text": {"field": "main"}}},
   {"data": {"name": "marks"}, "transform": [{"filter": "datum.p == 'f' && datum.sub == 'M'"}], "mark": {"type": "text", "font": "Liberation Serif", "fontStyle": "italic", "fontSize": 10, "align": "left", "baseline": "alphabetic", "dx": 12, "dy": 18, "color": "#222222"},
    "encoding": {"x": {"field": "x", "type": "quantitative"}, "y": {"datum": -9.5, "axis": null}, "text": {"field": "sub"}}}
  ]
 }
]
}
